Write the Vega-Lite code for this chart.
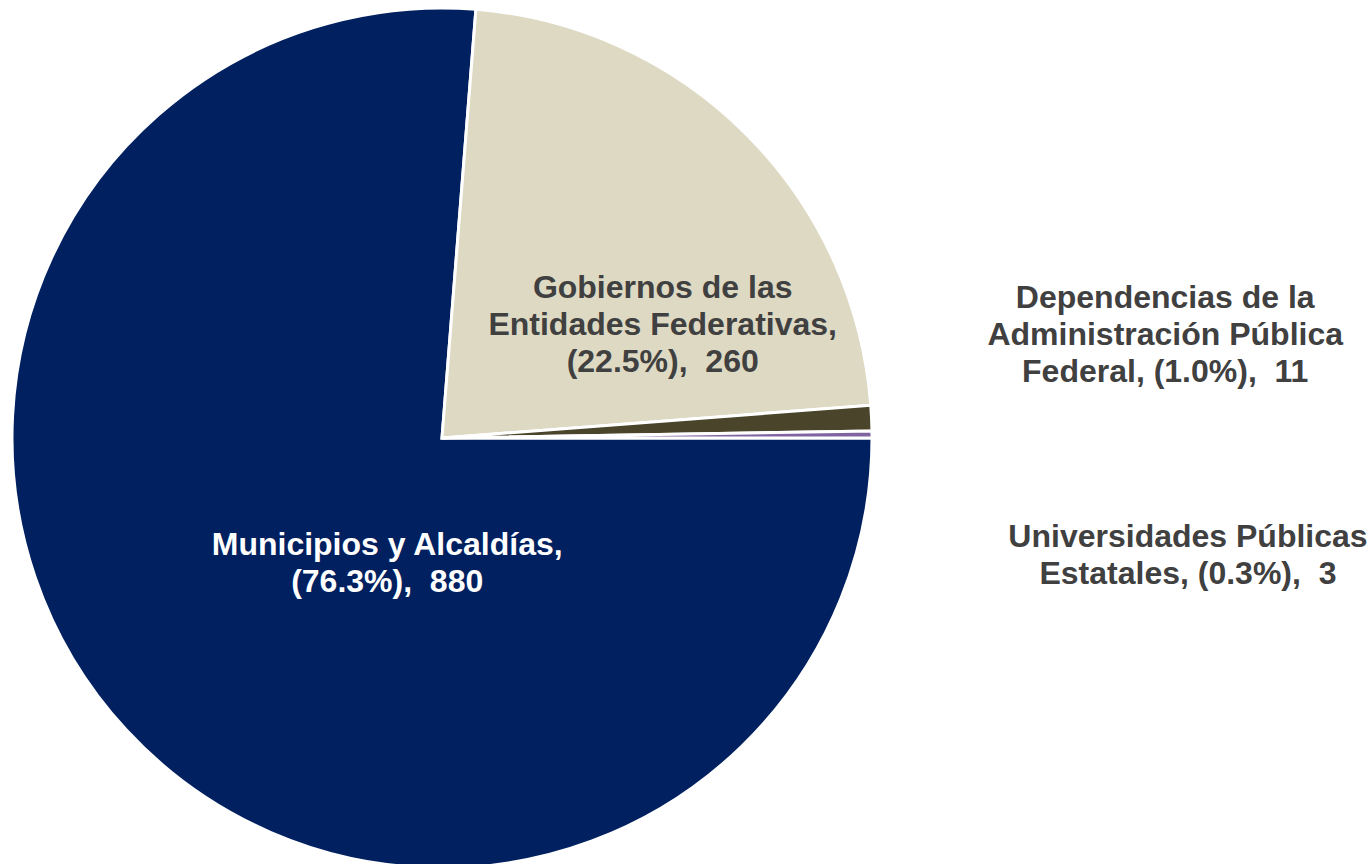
{
  "$schema": "https://vega.github.io/schema/vega-lite/v6.json",
  "width": 860,
  "height": 860,
  "autosize": {"type": "none"},
  "padding": {"left": 12, "top": 8, "right": 498, "bottom": 0},
  "background": "white",
  "view": {"stroke": null},
  "config": {"text": {"font": "Liberation Sans", "fontWeight": "bold", "fontSize": 32, "lineHeight": 37, "lineBreak": "\n", "align": "center", "baseline": "middle"}},
  "data": {
    "values": [
      {"categoria": "Municipios y Alcaldías", "valor": 880, "etiqueta": "Municipios y Alcaldías,\n(76.3%), \u00a0880"},
      {"categoria": "Gobiernos de las Entidades Federativas", "valor": 260, "etiqueta": "Gobiernos de las\nEntidades Federativas,\n(22.5%), \u00a0260"},
      {"categoria": "Dependencias de la Administración Pública Federal", "valor": 11, "etiqueta": "Dependencias de la\nAdministración Pública\nFederal, (1.0%), \u00a011"},
      {"categoria": "Universidades Públicas Estatales", "valor": 3, "etiqueta": "Universidades Públicas\nEstatales, (0.3%), \u00a03"}
    ]
  },
  "encoding": {
    "theta": {"field": "valor", "type": "quantitative", "stack": true, "scale": {"range": [1.5707963, 7.8539816]}},
    "order": {"field": "valor", "type": "quantitative", "sort": "descending"}
  },
  "layer": [
    {
      "mark": {"type": "arc", "outerRadius": 430, "stroke": "white", "strokeWidth": 3},
      "encoding": {
        "color": {
          "field": "categoria", "type": "nominal", "legend": null,
          "scale": {
            "domain": ["Municipios y Alcaldías", "Gobiernos de las Entidades Federativas", "Dependencias de la Administración Pública Federal", "Universidades Públicas Estatales"],
            "range": ["#002060", "#DDD9C3", "#4A452A", "#8064A2"]
          }
        }
      }
    },
    {
      "mark": {"type": "text", "radius": 125, "dx": 37, "dy": 22, "color": "white"},
      "encoding": {"text": {"condition": {"test": "datum.categoria === 'Municipios y Alcaldías'", "field": "etiqueta"}, "value": ""}}
    },
    {
      "mark": {"type": "text", "radius": 234, "dx": 55, "dy": 15, "color": "#404040"},
      "encoding": {"text": {"condition": {"test": "datum.categoria === 'Gobiernos de las Entidades Federativas'", "field": "etiqueta"}, "value": ""}}
    },
    {
      "mark": {"type": "text", "radius": 727, "dx": -3, "dy": -106, "color": "#404040"},
      "encoding": {"text": {"condition": {"test": "datum.categoria === 'Dependencias de la Administración Pública Federal'", "field": "etiqueta"}, "value": ""}}
    },
    {
      "mark": {"type": "text", "radius": 746, "dx": 0, "dy": 105, "color": "#404040"},
      "encoding": {"text": {"condition": {"test": "datum.categoria === 'Universidades Públicas Estatales'", "field": "etiqueta"}, "value": ""}}
    }
  ]
}
